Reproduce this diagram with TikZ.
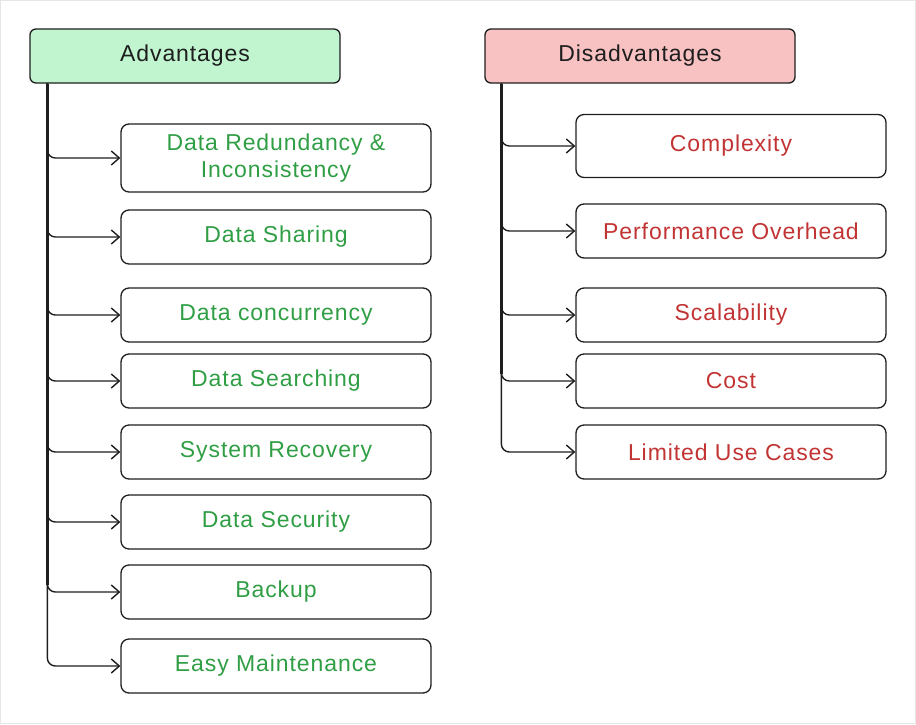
\documentclass[tikz,border=0pt]{standalone}
\usepackage{fontspec}
\setmainfont{Liberation Sans}[LetterSpace=4]
\usetikzlibrary{arrows.meta}
\usetikzlibrary{positioning}
\definecolor{ink}{HTML}{1E1E1E}
\definecolor{prosfill}{HTML}{C1F5D0}
\definecolor{consfill}{HTML}{F8C1C2}
\definecolor{prostext}{HTML}{2F9E44}
\definecolor{constext}{HTML}{C23434}
\definecolor{frame}{HTML}{E6E6E6}
\tikzset{
    header/.style={draw=ink, line width=1.3pt, rounded corners=6pt, minimum width=310pt, minimum height=54pt, inner sep=0pt, text=ink, font=\fontsize{23}{27}\selectfont},
    item/.style={draw=ink, line width=1.3pt, rounded corners=8pt, minimum width=310pt, minimum height=54pt, inner sep=0pt, align=center, font=\fontsize{23}{27}\selectfont},
    pro/.style={item, text=prostext},
    con/.style={item, text=constext},
    branch/.style={draw=ink, line width=1.4pt, rounded corners=8pt, -{Straight Barb[length=8pt,width=14pt,line width=1.4pt]}},
    trunk/.style={draw=ink, line width=2.6pt},
}
\begin{document}
\begin{tikzpicture}[x=1pt, y=-1pt]

            % Frame
            \useasboundingbox (0,0) rectangle (916,724);
            \draw[frame, line width=1pt] (0.5,0.5) rectangle (915.5,723.5);

            % Headers
            \node[header, fill=prosfill] (adv) at (185,56) {Advantages};
            \node[header, fill=consfill] (dis) at (640,56) {Disadvantages};

            % Advantages
            \node[pro, minimum height=68pt] (a1) at (276,158) {Data Redundancy \&\\Inconsistency};
            \node[pro] (a2) at (276,237) {Data Sharing};
            \node[pro] (a3) at (276,315) {Data concurrency};
            \node[pro] (a4) at (276,381) {Data Searching};
            \node[pro] (a5) at (276,452) {System Recovery};
            \node[pro] (a6) at (276,522) {Data Security};
            \node[pro] (a7) at (276,592) {Backup};
            \node[pro] (a8) at (276,666) {Easy Maintenance};

            % Disadvantages
            \node[con, minimum height=63pt] (d1) at (731,146) {Complexity};
            \node[con] (d2) at (731,231) {Performance Overhead};
            \node[con] (d3) at (731,315) {Scalability};
            \node[con] (d4) at (731,381) {Cost};
            \node[con] (d5) at (731,452) {Limited Use Cases};

            % Trunks
            \draw[trunk] ([xshift=18pt]adv.south west) -- ([xshift=18pt, yshift=7pt]adv.south west |- a7.west);
            \draw[trunk] ([xshift=17pt]dis.south west) -- ([xshift=17pt, yshift=7pt]dis.south west |- d4.west);

            % Branches
            \foreach \n in {a1,a2,a3,a4,a5,a6,a7,a8}
                \draw[branch] ([xshift=18pt]adv.south west) |- (\n.west);
            \foreach \n in {d1,d2,d3,d4,d5}
                \draw[branch] ([xshift=17pt]dis.south west) |- (\n.west);

        \end{tikzpicture}
\end{document}
